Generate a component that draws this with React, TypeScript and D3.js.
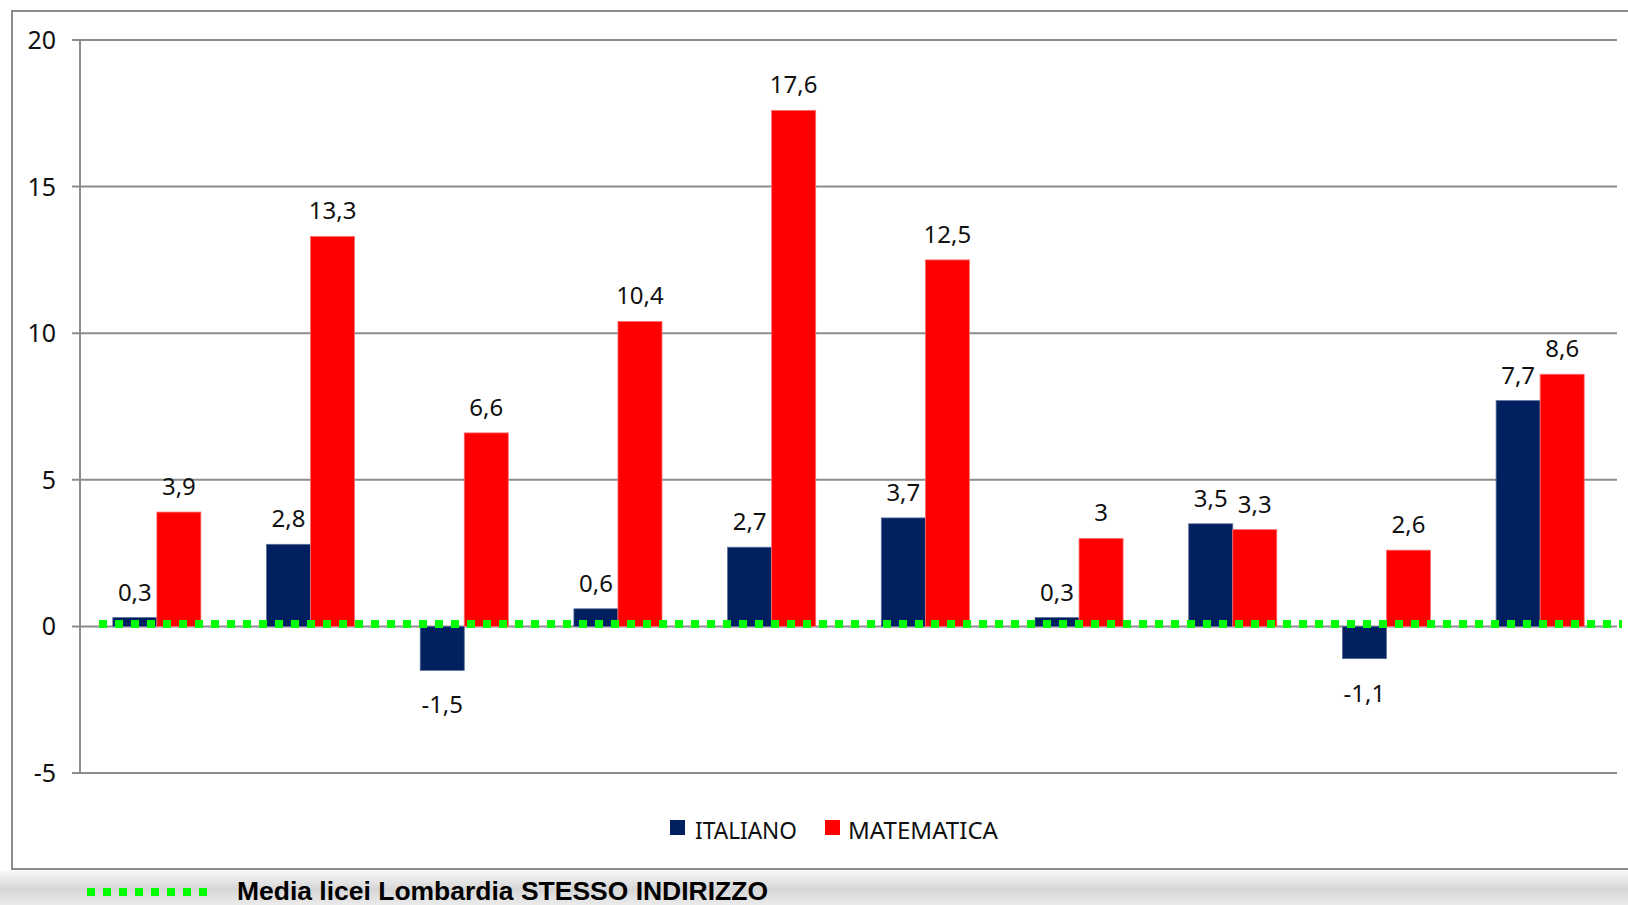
import React from "react";
import * as d3 from "d3";

const categories = ["1", "2", "3", "4", "5", "6", "7", "8", "9", "10"];
const seriesNames = ["ITALIANO", "MATEMATICA"];
const italiano = [0.3, 2.8, -1.5, 0.6, 2.7, 3.7, 0.3, 3.5, -1.1, 7.7];
const matematica = [3.9, 13.3, 6.6, 10.4, 17.6, 12.5, 3.0, 3.3, 2.6, 8.6];
const yTicks = [-5, 0, 5, 10, 15, 20];
const mediaValue = 0.08;
const mediaLabel = "Media licei Lombardia STESSO INDIRIZZO";

const W = 1628;
const H = 905;
const colors = ["#002060", "#FF0000"];
const labelFont = "'Noto Sans', 'Open Sans', sans-serif";

const fmt = (v: number) => String(v).replace(".", ",");

export default function App() {
  const x = d3
    .scaleBand<string>()
    .domain(categories)
    .range([80, 1617])
    .paddingInner(0.427)
    .paddingOuter(0.2135);
  const xs = d3.scaleBand<string>().domain(seriesNames).range([0, x.bandwidth()]);
  const y = d3.scaleLinear().domain([-5, 20]).range([773, 40]);
  const series = [italiano, matematica];

  return (
    <svg
      width={W}
      height={H}
      style={{ position: "absolute", left: 0, top: 0, background: "#fff" }}
    >
      <defs>
        <linearGradient id="strip" x1="0" y1="0" x2="0" y2="1">
          <stop offset="0" stopColor="#fafafa" />
          <stop offset="0.55" stopColor="#d6d6d6" />
          <stop offset="1" stopColor="#ebebeb" />
        </linearGradient>
      </defs>
      <rect x={0} y={0} width={W} height={H} fill="#fff" />
      <rect x={0} y={870} width={W} height={35} fill="url(#strip)" />
      {/* outer frame */}
      <path
        d={`M${W + 5},11 H12 V869 H${W + 5}`}
        fill="none"
        stroke="#8c8c8c"
        strokeWidth={2}
      />
      {/* gridlines and ticks */}
      {yTicks.map((t) => (
        <g key={t}>
          <line x1={72} x2={1617} y1={y(t)} y2={y(t)} stroke="#8c8c8c" strokeWidth={2} />
          <text
            x={56}
            y={y(t) + 9}
            textAnchor="end"
            fontFamily={labelFont}
            fontSize={25}
            fill="#111"
          >
            {t}
          </text>
        </g>
      ))}
      <line x1={80} x2={80} y1={y(20)} y2={y(-5)} stroke="#8c8c8c" strokeWidth={2} />
      {/* bars */}
      {series.map((vals, si) =>
        vals.map((v, i) => {
          const bx = (x(categories[i]) as number) + (xs(seriesNames[si]) as number);
          const top = y(Math.max(0, v));
          const h = Math.abs(y(v) - y(0));
          return (
            <rect
              key={`${si}-${i}`}
              x={bx}
              y={top}
              width={xs.bandwidth()}
              height={h}
              fill={colors[si]}
              stroke={si === 0 ? "#5a6d98" : "#ff7070"}
              strokeWidth={0.8}
            />
          );
        })
      )}
      {/* media line */}
      <line
        x1={99}
        x2={1622}
        y1={y(mediaValue)}
        y2={y(mediaValue)}
        stroke="#00FF00"
        strokeWidth={8}
        strokeDasharray="8 8"
      />
      {/* data labels */}
      {series.map((vals, si) =>
        vals.map((v, i) => {
          const cx =
            (x(categories[i]) as number) +
            (xs(seriesNames[si]) as number) +
            xs.bandwidth() / 2;
          const ly = v >= 0 ? y(v) - 17 : y(v) + 43;
          return (
            <text
              key={`l-${si}-${i}`}
              x={cx}
              y={ly}
              textAnchor="middle"
              fontFamily={labelFont}
              fontSize={24}
              fill="#111"
            >
              {fmt(v)}
            </text>
          );
        })
      )}
      {/* legend */}
      {seriesNames.map((n, si) => {
        const lx = si === 0 ? 670 : 825;
        return (
          <g key={n}>
            <rect x={lx} y={820} width={15} height={15} fill={colors[si]} />
            <text
              x={lx + 25 - si * 2}
              y={839}
              fontFamily={labelFont}
              fontSize={24}
              fill="#111"
              textLength={si === 0 ? 102 : 150}
              lengthAdjust="spacingAndGlyphs"
            >
              {n}
            </text>
          </g>
        );
      })}
      {/* bottom legend for media */}
      <line
        x1={87}
        x2={209}
        y1={892}
        y2={892}
        stroke="#00FF00"
        strokeWidth={8}
        strokeDasharray="8 8"
      />
      <text
        x={237}
        y={900}
        fontFamily="'Liberation Sans', Arial, sans-serif"
        fontWeight="bold"
        fontSize={26}
        fill="#000"
        textLength={531}
        lengthAdjust="spacingAndGlyphs"
      >
        {mediaLabel}
      </text>
    </svg>
  );
}
